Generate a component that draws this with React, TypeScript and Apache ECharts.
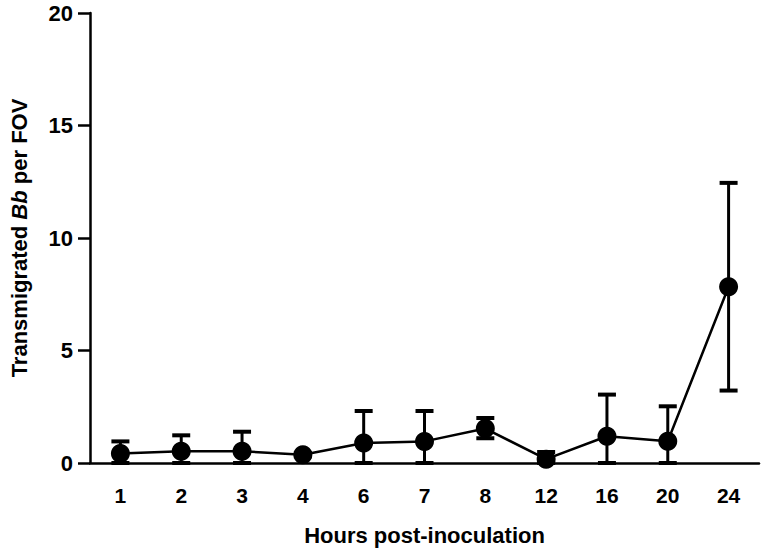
import React, { useEffect, useRef } from "react";
import * as echarts from "echarts";

const categories = ["1", "2", "3", "4", "6", "7", "8", "12", "16", "20", "24"];
const means = [0.42, 0.52, 0.52, 0.37, 0.89, 0.96, 1.53, 0.17, 1.19, 0.97, 7.83];
const upper = [0.96, 1.23, 1.39, 0.45, 2.31, 2.31, 2.0, 0.49, 3.04, 2.52, 12.45];
const lower = [0, 0, 0, 0.29, 0, 0, 1.1, 0, 0, 0, 3.22];
const yTicks = { min: 0, max: 20, interval: 5 };

const FONT = "'Liberation Sans', Arial, Helvetica, sans-serif";
const NARROW = "'Liberation Sans Narrow', 'Arial Narrow', 'Liberation Sans', Arial, sans-serif";

export default function App() {
  const ref = useRef<HTMLDivElement>(null);
  useEffect(() => {
    if (!ref.current) return;
    const chart = echarts.init(ref.current, null, { renderer: "svg" });
    const errData = categories.map((_, i) => [i, lower[i], upper[i]]);
    chart.setOption({
      animation: false,
      backgroundColor: "#ffffff",
      grid: { left: 87, right: 8, top: 13, bottom: 89 },
      xAxis: {
        type: "category",
        data: categories,
        boundaryGap: true,
        name: "Hours post-inoculation",
        nameLocation: "middle",
        nameGap: 61,
        nameTextStyle: { fontFamily: FONT, fontWeight: "bold", fontSize: 22, color: "#000" },
        axisLine: { lineStyle: { color: "#000", width: 2.5 } },
        axisTick: { alignWithLabel: true, length: 11, lineStyle: { color: "#000", width: 2.5 } },
        axisLabel: { fontFamily: NARROW, fontWeight: "bold", fontSize: 21, color: "#000", margin: 22 },
        splitLine: { show: false },
      },
      yAxis: {
        type: "value",
        min: yTicks.min,
        max: yTicks.max,
        interval: yTicks.interval,
        name: "Transmigrated {i|Bb} per FOV",
        nameLocation: "middle",
        nameGap: 60,
        nameTextStyle: {
          fontFamily: FONT,
          fontWeight: "bold",
          fontSize: 22,
          color: "#000",
          rich: {
            i: { fontFamily: FONT, fontWeight: "bold", fontStyle: "italic", fontSize: 22, color: "#000" },
          },
        },
        axisLine: { show: true, lineStyle: { color: "#000", width: 2.5 } },
        axisTick: { show: true, length: 12, lineStyle: { color: "#000", width: 2.5 } },
        axisLabel: { fontFamily: FONT, fontWeight: "bold", fontSize: 22, color: "#000", margin: 17 },
        splitLine: { show: false },
      },
      series: [
        {
          type: "custom",
          data: errData,
          encode: { x: 0, y: [1, 2] },
          z: 2,
          clip: false,
          renderItem: (params: any, api: any) => {
            const idx = api.value(0);
            const lo = api.coord([idx, api.value(1)]);
            const hi = api.coord([idx, api.value(2)]);
            const hw = 9;
            const style = { stroke: "#000", lineWidth: 3 };
            const capStyle = { stroke: "#000", lineWidth: 4 };
            return {
              type: "group",
              children: [
                { type: "line", shape: { x1: lo[0], y1: lo[1], x2: hi[0], y2: hi[1] }, style },
                { type: "line", shape: { x1: hi[0] - hw, y1: hi[1], x2: hi[0] + hw, y2: hi[1] }, style: capStyle },
                { type: "line", shape: { x1: lo[0] - hw, y1: lo[1], x2: lo[0] + hw, y2: lo[1] }, style: capStyle },
              ],
            };
          },
        },
        {
          type: "line",
          data: means,
          z: 3,
          symbol: "circle",
          symbolSize: 19,
          itemStyle: { color: "#000" },
          lineStyle: { color: "#000", width: 2.5 },
        },
      ],
    });
    return () => chart.dispose();
  }, []);
  return (
    <div
      ref={ref}
      style={{ position: "fixed", left: 0, top: 0, width: 767, height: 552, background: "#fff" }}
    />
  );
}
